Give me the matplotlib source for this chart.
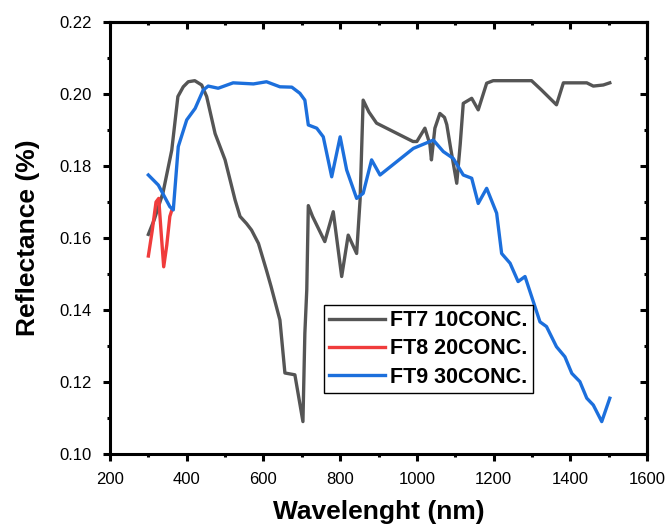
import matplotlib
matplotlib.use("Agg")
import matplotlib.pyplot as plt
from matplotlib.ticker import MultipleLocator

# ---- data ----
ft7_x = [300, 315, 338, 361, 377, 391, 404, 421, 439, 452, 474, 500, 526, 539, 556, 569,
         587, 608, 620, 643, 656, 682, 703, 708, 713, 717, 728, 760, 782, 804, 821, 843,
         852, 860, 875, 895, 990, 1000, 1021, 1034, 1038, 1047, 1060, 1072, 1078, 1088,
         1104, 1113, 1121, 1143, 1160, 1182, 1199, 1299, 1325, 1364, 1382, 1425, 1443,
         1460, 1486, 1503]
ft7_y = [0.161, 0.165, 0.1725, 0.1844, 0.1993, 0.2020, 0.2034, 0.2037, 0.2025, 0.1993,
         0.1890, 0.1817, 0.1706, 0.1660, 0.1640, 0.1622, 0.1585, 0.1510, 0.1465, 0.1372,
         0.1225, 0.1220, 0.1090, 0.1335, 0.1456, 0.1690, 0.1660, 0.1590, 0.1673, 0.1493,
         0.1608, 0.1557, 0.1706, 0.1983, 0.1950, 0.1919, 0.1868, 0.1868, 0.1905, 0.1860,
         0.1817, 0.1905, 0.1946, 0.1935, 0.1915, 0.1850, 0.1752, 0.1860, 0.1974, 0.1988,
         0.1956, 0.2030, 0.2037, 0.2037, 0.2011, 0.1970, 0.2031, 0.2031, 0.2031, 0.2022,
         0.2025, 0.2031]

ft8_x = [300, 310, 320, 327, 333, 340, 348, 356, 362]
ft8_y = [0.155, 0.162, 0.170, 0.171, 0.162, 0.152, 0.158, 0.166, 0.168]

ft9_x = [300, 326, 356, 365, 378, 400, 422, 443, 456, 482, 521, 574, 608, 643, 674, 695,
         708, 717, 739, 756, 778, 800, 817, 843, 860, 882, 904, 991, 1043, 1069, 1095,
         1121, 1143, 1160, 1182, 1208, 1221, 1243, 1264, 1282, 1321, 1338, 1364, 1386,
         1404, 1425, 1443, 1460, 1482, 1503]
ft9_y = [0.1775, 0.1747, 0.1687, 0.1678, 0.1854, 0.1928, 0.1960, 0.2011, 0.2022, 0.2016,
         0.2031, 0.2028, 0.2034, 0.2020, 0.2019, 0.2002, 0.1983, 0.1914, 0.1905, 0.1881,
         0.1770, 0.1881, 0.1789, 0.1710, 0.1724, 0.1817, 0.1775, 0.1849, 0.1872, 0.1840,
         0.1821, 0.1775, 0.1766, 0.1696, 0.1738, 0.1669, 0.1557, 0.1530, 0.1479, 0.1493,
         0.1367, 0.1354, 0.1298, 0.1270, 0.1224, 0.1201, 0.1155, 0.1136, 0.1090, 0.1155]

labels = ["FT7 10CONC.", "FT8 20CONC.", "FT9 30CONC."]
colors = ["#555555", "#f03c3c", "#1c6fdc"]

x_ticks = [200, 400, 600, 800, 1000, 1200, 1400, 1600]
y_ticks = [0.10, 0.12, 0.14, 0.16, 0.18, 0.20, 0.22]

# ---- figure ----
plt.rcParams['font.family'] = ['Liberation Sans', 'DejaVu Sans']
fig = plt.figure(figsize=(6.69, 5.26), dpi=100)
ax = fig.add_axes([110/669, 1 - 454/526, (647-110)/669, (454-22)/526])

for xs, ys, c, lab in zip([ft7_x, ft8_x, ft9_x], [ft7_y, ft8_y, ft9_y], colors, labels):
    ax.plot(xs, ys, color=c, lw=2.4, label=lab, solid_joinstyle='round')

ax.set_xlim(200, 1600)
ax.set_ylim(0.10, 0.22)
ax.set_xticks(x_ticks)
ax.set_yticks(y_ticks)
ax.set_yticklabels([f"{v:.2f}" for v in y_ticks])
ax.xaxis.set_minor_locator(MultipleLocator(100))
ax.yaxis.set_minor_locator(MultipleLocator(0.01))

for s in ax.spines.values():
    s.set_linewidth(2.2)

ax.tick_params(axis='x', which='major', length=5, width=2.2, labelsize=12, direction='out', pad=8)
ax.tick_params(axis='y', which='major', length=5, width=2.2, labelsize=12, direction='out', pad=8)
ax.tick_params(axis='both', which='minor', length=2.5, width=2.2, direction='out')
# top/right inward ticks without labels
axt = ax.secondary_xaxis('top')
axt.set_xticks(x_ticks)
axt.xaxis.set_minor_locator(MultipleLocator(100))
axt.tick_params(which='major', direction='in', length=5, width=2.2, labeltop=False)
axt.tick_params(which='minor', direction='in', length=2.5, width=2.2)
axt.spines['top'].set_linewidth(2.2)
axr = ax.secondary_yaxis('right')
axr.set_yticks(y_ticks)
axr.yaxis.set_minor_locator(MultipleLocator(0.01))
axr.tick_params(which='major', direction='in', length=5, width=2.2, labelright=False)
axr.tick_params(which='minor', direction='in', length=2.5, width=2.2)
axr.spines['right'].set_linewidth(2.2)

ax.set_xlabel("Wavelenght (nm)", fontsize=19, fontweight='bold', labelpad=9)
ax.set_ylabel("Reflectance (%)", fontsize=19, fontweight='bold', labelpad=14)

leg = ax.legend(loc='upper left', bbox_to_anchor=(324/669, 1 - 305/526),
                bbox_transform=fig.transFigure, borderaxespad=0,
                prop={'weight': 'bold', 'size': 15.5}, frameon=True, fancybox=False,
                edgecolor='black', framealpha=1, handlelength=2.6, handletextpad=0.2,
                labelspacing=0.33, borderpad=0.25)
leg.get_frame().set_linewidth(1.0)

fig.savefig("out.png", dpi=100)
